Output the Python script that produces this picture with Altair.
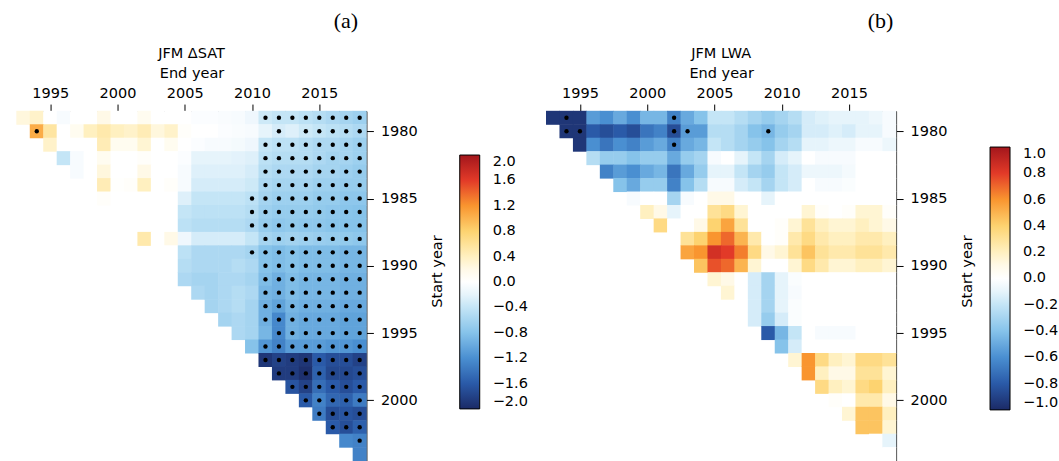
import altair as alt
import pandas as pd

# Trend matrices: rows are start years 1979..2004, each row lists end years
# from (start + 14) up to 2018.
MIN_SPAN = 14
FIRST_START = 1979

# ---- JFM ΔSAT ----
sat_1979 = [0.25, 0.35, 0.0, -0.1, 0.0, 0.0, 0.2, 0.0, 0.0, 0.15, 0.0, 0.0, 0.0, -0.05, -0.05, -0.08, -0.1, -0.15, -0.35, -0.4, -0.4, -0.45, -0.5, -0.55, -0.6, -0.65]
sat_1980 = [1.05, 0.55, 0.0, 0.15, 0.4, 0.5, 0.4, 0.35, 0.45, 0.25, 0.35, 0.1, 0.0, 0.0, -0.05, -0.08, -0.1, -0.2, -0.3, -0.25, -0.35, -0.4, -0.45, -0.5, -0.55]
sat_1981 = [0.35, 0.0, 0.0, 0.0, 0.45, 0.15, 0.15, 0.3, 0.0, 0.15, 0.0, -0.05, -0.1, -0.1, -0.12, -0.15, -0.4, -0.45, -0.45, -0.5, -0.55, -0.55, -0.6, -0.65]
sat_1982 = [-0.4, -0.1, 0.0, 0.15, 0.0, 0.0, 0.1, 0.0, 0.0, -0.05, -0.2, -0.2, -0.2, -0.22, -0.25, -0.45, -0.5, -0.5, -0.5, -0.55, -0.6, -0.6, -0.65]
sat_1983 = [-0.1, 0.0, 0.25, 0.0, 0.0, 0.2, 0.0, 0.0, -0.1, -0.25, -0.25, -0.25, -0.25, -0.3, -0.5, -0.55, -0.55, -0.55, -0.6, -0.6, -0.65, -0.7]
sat_1984 = [0.0, 0.45, 0.05, 0.1, 0.4, 0.0, 0.1, -0.1, -0.3, -0.3, -0.3, -0.3, -0.35, -0.55, -0.6, -0.6, -0.6, -0.65, -0.65, -0.7, -0.7]
sat_1985 = [0.1, 0.0, 0.0, 0.0, 0.0, 0.0, -0.25, -0.4, -0.4, -0.4, -0.4, -0.45, -0.6, -0.65, -0.65, -0.65, -0.7, -0.7, -0.75, -0.75]
sat_1986 = [0.0, 0.0, 0.0, 0.0, 0.0, -0.4, -0.45, -0.45, -0.45, -0.45, -0.5, -0.65, -0.7, -0.7, -0.7, -0.72, -0.75, -0.78, -0.8]
sat_1987 = [0.0, 0.0, 0.0, 0.0, -0.45, -0.5, -0.5, -0.5, -0.5, -0.55, -0.7, -0.75, -0.72, -0.75, -0.75, -0.78, -0.8, -0.8]
sat_1988 = [0.5, 0.0, 0.2, -0.15, -0.3, -0.3, -0.3, -0.3, -0.4, -0.6, -0.65, -0.62, -0.65, -0.68, -0.7, -0.72, -0.75]
sat_1989 = [0.0, 0.0, -0.45, -0.55, -0.55, -0.55, -0.55, -0.6, -0.8, -0.85, -0.8, -0.85, -0.85, -0.85, -0.9, -0.9]
sat_1990 = [0.0, -0.5, -0.55, -0.55, -0.55, -0.5, -0.55, -0.8, -0.85, -0.8, -0.85, -0.85, -0.85, -0.9, -0.9]
sat_1991 = [-0.55, -0.6, -0.6, -0.55, -0.55, -0.6, -0.85, -0.95, -0.85, -0.9, -0.9, -0.9, -0.95, -0.95]
sat_1992 = [-0.55, -0.6, -0.55, -0.5, -0.55, -0.9, -0.95, -0.85, -0.9, -0.9, -0.9, -0.95, -0.95]
sat_1993 = [-0.6, -0.55, -0.5, -0.6, -0.95, -1.05, -0.9, -0.95, -0.95, -0.95, -1.0, -1.0]
sat_1994 = [-0.6, -0.55, -0.6, -0.95, -1.25, -0.95, -1.0, -1.0, -1.0, -1.05, -1.05]
sat_1995 = [-0.55, -0.6, -0.9, -1.25, -0.95, -1.0, -1.0, -1.0, -1.05, -1.05]
sat_1996 = [-0.8, -1.15, -1.3, -1.1, -1.1, -1.1, -1.15, -1.15, -1.2]
sat_1997 = [-1.9, -1.8, -1.85, -1.9, -1.6, -1.7, -1.7, -1.8]
sat_1998 = [-1.85, -1.85, -1.95, -1.55, -1.75, -1.75, -1.7]
sat_1999 = [-1.65, -1.8, -1.45, -1.6, -1.7, -1.6]
sat_2000 = [-1.6, -1.3, -1.5, -1.55, -1.35]
sat_2001 = [-1.35, -1.7, -1.65, -1.7]
sat_2002 = [-1.6, -1.7, -1.55]
sat_2003 = [-1.25, -1.3]
sat_2004 = [-1.3]
sat_rows = [sat_1979, sat_1980, sat_1981, sat_1982, sat_1983, sat_1984, sat_1985,
            sat_1986, sat_1987, sat_1988, sat_1989, sat_1990, sat_1991, sat_1992,
            sat_1993, sat_1994, sat_1995, sat_1996, sat_1997, sat_1998, sat_1999,
            sat_2000, sat_2001, sat_2002, sat_2003, sat_2004]

# significant trends: start year -> end years
sat_sig = {
    1979: [2011, 2012, 2013, 2014, 2015, 2016, 2017, 2018],
    1980: [1994, 2012, 2014, 2015, 2016, 2017, 2018],
    1981: [2011, 2012, 2013, 2014, 2015, 2016, 2017, 2018],
    1982: [2011, 2012, 2013, 2014, 2015, 2016, 2017, 2018],
    1983: [2011, 2012, 2013, 2014, 2015, 2016, 2017, 2018],
    1984: [2011, 2012, 2013, 2014, 2015, 2016, 2017, 2018],
    1985: [2010, 2011, 2012, 2013, 2014, 2015, 2016, 2017, 2018],
    1986: [2010, 2011, 2012, 2013, 2014, 2015, 2016, 2017, 2018],
    1987: [2010, 2011, 2012, 2013, 2014, 2015, 2016, 2017, 2018],
    1988: [2011, 2012, 2013, 2014, 2015, 2016, 2017, 2018],
    1989: [2010, 2011, 2012, 2013, 2014, 2015, 2016, 2017, 2018],
    1990: [2011, 2012, 2013, 2014, 2015, 2016, 2017, 2018],
    1991: [2011, 2012, 2013, 2014, 2015, 2016, 2017, 2018],
    1992: [2011, 2012, 2013, 2014, 2015, 2016, 2017, 2018],
    1993: [2011, 2012, 2013, 2014, 2015, 2016, 2017, 2018],
    1994: [2011, 2012, 2013, 2014, 2015, 2016, 2017, 2018],
    1995: [2012, 2013, 2014, 2015, 2016, 2017, 2018],
    1996: [2011, 2012, 2013, 2014, 2015, 2016, 2017, 2018],
    1997: [2011, 2012, 2013, 2014, 2015, 2016, 2017, 2018],
    1998: [2012, 2013, 2014, 2015, 2016, 2017, 2018],
    1999: [2013, 2014, 2015, 2016, 2017, 2018],
    2000: [2014, 2015, 2016, 2017, 2018],
    2001: [2015, 2016, 2017, 2018],
    2002: [2016, 2017, 2018],
    2003: [2018],
}

# ---- JFM LWA ----
lwa_1979 = [-0.95, -0.95, -0.95, -0.55, -0.6, -0.5, -0.6, -0.45, -0.45, -0.65, -0.5, -0.4, -0.2, -0.2, -0.25, -0.3, -0.35, -0.3, -0.25, -0.15, -0.12, -0.1, -0.1, -0.1, -0.08, -0.05]
lwa_1980 = [-0.95, -0.95, -0.8, -0.85, -0.8, -0.85, -0.7, -0.65, -0.85, -0.55, -0.55, -0.25, -0.25, -0.3, -0.4, -0.45, -0.35, -0.3, -0.15, -0.15, -0.12, -0.15, -0.1, -0.1, -0.05]
lwa_1981 = [-0.95, -0.6, -0.7, -0.6, -0.65, -0.55, -0.5, -0.65, -0.5, -0.45, -0.2, -0.25, -0.3, -0.35, -0.4, -0.3, -0.25, -0.1, -0.1, -0.08, -0.08, -0.05, -0.05, -0.08]
lwa_1982 = [-0.25, -0.35, -0.35, -0.4, -0.35, -0.35, -0.5, -0.35, -0.3, -0.05, 0.0, -0.1, -0.2, -0.3, -0.15, -0.1, 0.0, -0.05, -0.05, -0.05, 0.0, 0.0, 0.0]
lwa_1983 = [-0.65, -0.55, -0.6, -0.5, -0.45, -0.7, -0.5, -0.35, -0.1, -0.1, -0.2, -0.3, -0.35, -0.2, -0.15, -0.08, -0.08, -0.08, -0.06, 0.0, 0.0, 0.0]
lwa_1984 = [-0.4, -0.5, -0.35, -0.35, -0.65, -0.4, -0.25, -0.05, -0.05, -0.15, -0.2, -0.3, -0.2, -0.15, 0.0, -0.05, -0.05, -0.03, 0.0, 0.0, 0.0]
lwa_1985 = [-0.05, 0.0, 0.0, -0.3, -0.05, 0.0, 0.1, 0.1, 0.0, 0.0, -0.1, 0.0, 0.0, 0.0, 0.0, 0.0, 0.0, 0.0, 0.0, 0.0]
lwa_1986 = [0.2, 0.1, -0.1, 0.0, 0.0, 0.3, 0.35, 0.15, 0.0, 0.0, 0.0, 0.0, 0.15, 0.05, 0.0, 0.05, 0.15, 0.15, 0.05]
lwa_1987 = [0.35, 0.0, 0.0, 0.1, 0.4, 0.55, 0.3, 0.0, 0.0, 0.05, 0.15, 0.3, 0.2, 0.15, 0.15, 0.2, 0.15, 0.1]
lwa_1988 = [0.0, 0.3, 0.4, 0.6, 0.7, 0.5, 0.25, 0.0, 0.05, 0.25, 0.35, 0.25, 0.2, 0.2, 0.25, 0.25, 0.2]
lwa_1989 = [0.55, 0.6, 0.85, 0.8, 0.65, 0.35, 0.1, 0.15, 0.3, 0.45, 0.3, 0.25, 0.25, 0.3, 0.3, 0.25]
lwa_1990 = [0.45, 0.75, 0.7, 0.5, 0.15, 0.0, 0.0, 0.15, 0.35, 0.25, 0.15, 0.15, 0.2, 0.2, 0.15]
lwa_1991 = [0.15, 0.1, 0.0, -0.15, -0.3, -0.1, -0.03, 0.0, 0.0, 0.0, 0.0, 0.0, 0.0, 0.0]
lwa_1992 = [0.15, 0.0, -0.15, -0.3, -0.1, -0.05, 0.0, 0.0, 0.0, 0.0, 0.0, 0.0, 0.0]
lwa_1993 = [0.0, -0.15, -0.3, -0.1, -0.03, 0.0, 0.0, 0.0, 0.0, 0.0, 0.0, 0.0]
lwa_1994 = [-0.15, -0.35, -0.15, -0.03, 0.0, 0.0, 0.0, 0.0, 0.0, 0.0, 0.0]
lwa_1995 = [-0.8, -0.45, -0.2, 0.0, -0.05, -0.05, -0.05, 0.0, 0.0, 0.0]
lwa_1996 = [-0.4, -0.15, 0.0, 0.0, 0.0, 0.0, 0.0, 0.0, 0.0]
lwa_1997 = [0.15, 0.6, 0.35, 0.2, 0.15, 0.35, 0.35, 0.3]
lwa_1998 = [0.6, 0.2, 0.1, 0.1, 0.3, 0.3, 0.15]
lwa_1999 = [0.35, 0.2, 0.15, 0.35, 0.4, 0.2]
lwa_2000 = [0.05, 0.0, 0.25, 0.25, 0.1]
lwa_2001 = [0.15, 0.45, 0.45, 0.2]
lwa_2002 = [0.45, 0.45, 0.15]
lwa_2003 = [0.0, -0.1]
lwa_2004 = [0.0]
lwa_rows = [lwa_1979, lwa_1980, lwa_1981, lwa_1982, lwa_1983, lwa_1984, lwa_1985,
            lwa_1986, lwa_1987, lwa_1988, lwa_1989, lwa_1990, lwa_1991, lwa_1992,
            lwa_1993, lwa_1994, lwa_1995, lwa_1996, lwa_1997, lwa_1998, lwa_1999,
            lwa_2000, lwa_2001, lwa_2002, lwa_2003, lwa_2004]

lwa_sig = {
    1979: [1994, 2002],
    1980: [1994, 1995, 2002, 2003, 2009],
    1981: [2002],
}

# diverging palette, white around zero (stops in units of the colour range)
cmap_stops = [-1.0, -0.8, -0.6, -0.4, -0.2, -0.05, 0.0, 0.05, 0.2, 0.4, 0.6, 0.8, 1.0]
cmap_colors = ["#1b2a66", "#2a5aa8", "#4a8fd1", "#86c3ea", "#c4e5f6", "#f7fbfe", "#ffffff",
               "#fffefa", "#fff0c0", "#fdd370", "#f9952f", "#e23a28", "#a3161c"]

END_TICKS = [1995, 2000, 2005, 2010, 2015]
START_TICKS = [1980, 1985, 1990, 1995, 2000]
FONT = "DejaVu Sans"
FS = 14.5
HALF = 0.52  # half cell width in years; a hair over 0.5 so neighbouring cells meet without seams


def to_frame(rows):
    recs = []
    for i, row in enumerate(rows):
        start = FIRST_START + i
        for j, v in enumerate(row):
            recs.append({"start": start, "end": start + MIN_SPAN + j, "value": v})
    return pd.DataFrame(recs)


def sig_frame(sig):
    return pd.DataFrame([{"start": s, "end": e} for s, ends in sig.items() for e in ends])


def panel(rows, sig, title, tag, tag_x, vmax, leg_x, leg_y, leg_len):
    xs = alt.Scale(domain=[1992.5, 2018.5], nice=False, zero=False)
    ys = alt.Scale(domain=[1978.5, 2004.5], nice=False, zero=False, reverse=True)
    xaxis = alt.Axis(orient="top", values=END_TICKS, format="d", grid=False, tickSize=7,
                     labelFontSize=FS, titleFontSize=FS, titleFontWeight="normal",
                     labelColor="black", titleColor="black", domainColor="black",
                     tickColor="black", labelPadding=4, titlePadding=5, labelFont=FONT,
                     titleFont=FONT)
    yaxis = alt.Axis(orient="right", values=START_TICKS, format="d", grid=False, tickSize=7,
                     labelFontSize=FS, titleFontSize=FS, titleFontWeight="normal",
                     labelColor="black", titleColor="black", domainColor="black",
                     tickColor="black", labelPadding=7, titleAngle=270, titleX=71,
                     titleY=160, titleBaseline="middle", titleAlign="center",
                     labelFont=FONT, titleFont=FONT)
    ticks = [round(vmax * k / 5, 2) for k in range(-5, 6)]
    domain = [vmax * s for s in cmap_stops]
    cscale = alt.Scale(domain=domain, range=cmap_colors, interpolate="rgb", clamp=True)
    legend = alt.Legend(type="gradient", orient="none", legendX=leg_x, legendY=leg_y,
                        direction="vertical", gradientLength=leg_len, gradientThickness=20,
                        values=ticks, format=".1f", title=None, labelFontSize=FS,
                        labelFont=FONT, labelColor="black", gradientStrokeColor="black",
                        gradientStrokeWidth=1, labelOffset=13, labelBaseline="middle",
                        labelOverlap=False, padding=0)

    heat = alt.Chart(to_frame(rows)).transform_calculate(
        x_lo=f"datum.end - {HALF}", x_hi=f"datum.end + {HALF}",
        y_lo=f"datum.start - {HALF}", y_hi=f"datum.start + {HALF}",
    ).mark_rect(strokeWidth=0).encode(
        x=alt.X("x_lo:Q", scale=xs, axis=xaxis, title="End year"),
        x2="x_hi:Q",
        y=alt.Y("y_lo:Q", scale=ys, axis=yaxis, title="Start year"),
        y2="y_hi:Q",
        color=alt.Color("value:Q", scale=cscale, legend=legend),
    )
    dots = alt.Chart(sig_frame(sig)).mark_circle(size=19, color="black", opacity=1).encode(
        x=alt.X("end:Q", scale=xs, axis=xaxis, title="End year"),
        y=alt.Y("start:Q", scale=ys, axis=yaxis, title="Start year"),
    )
    tag_text = alt.Chart(pd.DataFrame({"txt": [tag]})).mark_text(
        align="center", baseline="alphabetic", color="black",
        font="Liberation Serif", fontSize=22,
    ).encode(text="txt:N", x=alt.value(tag_x), y=alt.value(-83.5))
    title_text = alt.Chart(pd.DataFrame({"txt": [title]})).mark_text(
        align="center", baseline="alphabetic", color="black", font=FONT, fontSize=FS,
    ).encode(text="txt:N", x=alt.value(175), y=alt.value(-53.5))

    return alt.layer(heat, dots, tag_text, title_text).properties(width=350, height=350)


left = panel(sat_rows, sat_sig, "JFM ΔSAT", "(a)", 329.5, 2.0, 443.4, 44, 254)
right = panel(lwa_rows, lwa_sig, "JFM LWA", "(b)", 334.5, 1.0, 444, 36, 263)

chart = alt.hconcat(left, right, spacing=180, bounds="flush").resolve_scale(
    color="independent"
).properties(
    padding={"left": 15.6, "top": 9, "right": 0, "bottom": 0},
    background="white",
).configure_view(stroke=None)

chart.save("out.html", embed_options={"renderer": "svg", "actions": False})
